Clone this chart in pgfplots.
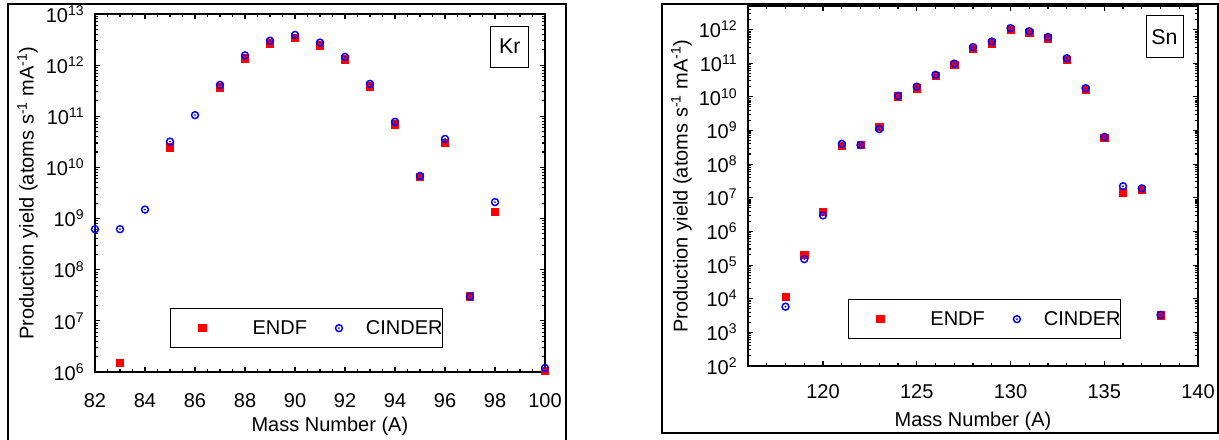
\documentclass[border=0pt]{standalone}
\usepackage{fontspec}
\setmainfont{Liberation Sans}
\usepackage{pgfplots}
\pgfplotsset{compat=1.18}

% circle with a dot in the middle (CINDER marker)
\pgfdeclareplotmark{odot}{%
  \pgfpathcircle{\pgfpointorigin}{\pgfplotmarksize}\pgfusepathqstroke
  \pgfpathcircle{\pgfpointorigin}{0.3\pgfplotmarksize}\pgfusepathqfill}

\newcommand{\lbl}{\fontsize{15}{18}\selectfont}
\newcommand{\tp}[1]{10\textsuperscript{#1}}
\newcommand{\ylab}{Production yield (atoms s\textsuperscript{-1} mA\textsuperscript{-1})}

\begin{document}
\begin{tikzpicture}
% 1 px of the 1219x439 reference = 0.75pt
\useasboundingbox (0pt,0pt) rectangle (914.25pt,329.25pt);

% Kr
\begin{axis}[
  at={(71.25pt,50.25pt)}, anchor=south west,
  scale only axis, width=337.5pt, height=268.5pt,
  ymode=log, log basis y=10, clip=false,
  axis line style={line width=1.4pt},
  every tick/.style={black, line width=0.8pt},
  tick align=inside, major tick length=3.75pt, minor tick length=2pt,
  tick label style={font=\lbl},
  xticklabel style={yshift=-12.5pt}, yticklabel style={xshift=-4.5pt},
  /pgf/number format/assume math mode=true,
  xmin=82, xmax=100, xtick={82,84,...,100}, minor x tick num=3,
  ymin=1e6, ymax=1e13,
  ytick={1e6,1e7,1e8,1e9,1e10,1e11,1e12,1e13},
  yticklabels={\tp{6},\tp{7},\tp{8},\tp{9},\tp{10},\tp{11},\tp{12},\tp{13}},
  minor ytick={2e6,3e6,4e6,5e6,6e6,7e6,8e6,9e6,
    2e7,3e7,4e7,5e7,6e7,7e7,8e7,9e7,
    2e8,3e8,4e8,5e8,6e8,7e8,8e8,9e8,
    2e9,3e9,4e9,5e9,6e9,7e9,8e9,9e9,
    2e10,3e10,4e10,5e10,6e10,7e10,8e10,9e10,
    2e11,3e11,4e11,5e11,6e11,7e11,8e11,9e11,
    2e12,3e12,4e12,5e12,6e12,7e12,8e12,9e12},
  xlabel={Mass Number (A)}, ylabel={\ylab},
  xlabel style={at={(axis description cs:0.522,-0.153)}, anchor=center, font=\lbl},
  ylabel style={at={(axis description cs:-0.15,0.5)}, anchor=center, font=\lbl},
  legend columns=2,
  legend image code/.code={\path[draw=none] (0pt,0pt) -- (44.25pt,0pt);
    \draw[#1] plot coordinates {(24pt,0pt)};},
  legend style={at={(0.1667,0.067)}, anchor=south west, draw=black, line width=0.8pt,
    inner xsep=0pt, inner ysep=8.5pt, nodes={inner sep=0pt}, font=\lbl},
]
\addplot[only marks, mark=square*, mark size=2.8pt, red] coordinates {
  (83,1.5e6) (85,2.5e10) (87,3.7e11) (88,1.35e12) (89,2.7e12) (90,3.4e12)
  (91,2.45e12) (92,1.3e12) (93,3.9e11) (94,7e10) (95,6.5e9) (96,3e10)
  (97,3e7) (98,1.35e9) (100,1.05e6)
};
\addplot[only marks, mark=odot, mark size=2.6pt, blue, mark options={line width=1.1pt}] coordinates {
  (82,6.2e8) (83,6.2e8) (84,1.5e9) (85,3.2e10) (86,1.05e11) (87,4.1e11)
  (88,1.55e12) (89,3.0e12) (90,3.9e12) (91,2.75e12) (92,1.45e12) (93,4.3e11)
  (94,7.8e10) (95,6.8e9) (96,3.6e10) (97,3e7) (98,2.1e9) (100,1.2e6)
};
\legend{\kern17.25pt ENDF,CINDER}
\node[draw, line width=0.8pt, minimum width=28.5pt, minimum height=30.75pt,
  inner sep=0pt, font=\fontsize{16}{19}\selectfont] at (rel axis cs:0.922,0.909) {Kr};
\end{axis}

% Sn
\begin{axis}[
  at={(561pt,54.75pt)}, anchor=south west,
  scale only axis, width=337.5pt, height=270pt,
  ymode=log, log basis y=10, clip=false,
  axis line style={line width=1.4pt},
  every tick/.style={black, line width=0.8pt},
  tick align=inside, major tick length=3.75pt, minor tick length=2pt,
  tick label style={font=\lbl},
  xticklabel style={yshift=-10.5pt}, yticklabel style={xshift=-4.5pt},
  /pgf/number format/assume math mode=true,
  xmin=116, xmax=140, xtick={115,120,...,140}, minor x tick num=4,
  ymin=1e2, ymax=5e12,
  ytick={1e2,1e3,1e4,1e5,1e6,1e7,1e8,1e9,1e10,1e11,1e12},
  yticklabels={\tp{2},\tp{3},\tp{4},\tp{5},\tp{6},\tp{7},\tp{8},\tp{9},\tp{10},\tp{11},\tp{12}},
  minor ytick={2e2,3e2,4e2,5e2,6e2,7e2,8e2,9e2,
    2e3,3e3,4e3,5e3,6e3,7e3,8e3,9e3,
    2e4,3e4,4e4,5e4,6e4,7e4,8e4,9e4,
    2e5,3e5,4e5,5e5,6e5,7e5,8e5,9e5,
    2e6,3e6,4e6,5e6,6e6,7e6,8e6,9e6,
    2e7,3e7,4e7,5e7,6e7,7e7,8e7,9e7,
    2e8,3e8,4e8,5e8,6e8,7e8,8e8,9e8,
    2e9,3e9,4e9,5e9,6e9,7e9,8e9,9e9,
    2e10,3e10,4e10,5e10,6e10,7e10,8e10,9e10,
    2e11,3e11,4e11,5e11,6e11,7e11,8e11,9e11,
    2e12,3e12,4e12},
  xlabel={Mass Number (A)}, ylabel={\ylab},
  xlabel style={at={(axis description cs:0.5,-0.155)}, anchor=center, font=\lbl},
  ylabel style={at={(axis description cs:-0.148,0.5)}, anchor=center, font=\lbl},
  legend columns=2,
  legend image code/.code={\path[draw=none] (0pt,0pt) -- (44.25pt,0pt);
    \draw[#1] plot coordinates {(24pt,0pt)};},
  legend style={at={(0.222,0.075)}, anchor=south west, draw=black, line width=0.8pt,
    inner xsep=0pt, inner ysep=8.5pt, nodes={inner sep=0pt}, font=\lbl},
]
\addplot[only marks, mark=square*, mark size=2.8pt, red] coordinates {
  (118,1.15e4) (119,2e5) (120,3.8e6) (121,3.5e8) (122,3.7e8) (123,1.3e9)
  (124,1.05e10) (125,1.8e10) (126,4.2e10) (127,9e10) (128,2.7e11) (129,3.9e11)
  (130,1e12) (131,8e11) (132,5.5e11) (133,1.26e11) (134,1.6e10) (135,6e8)
  (136,1.45e7) (137,1.7e7) (138,3.2e3)
};
\addplot[only marks, mark=odot, mark size=2.6pt, blue, mark options={line width=1.1pt}] coordinates {
  (118,5.8e3) (119,1.5e5) (120,3e6) (121,4e8) (122,3.7e8) (123,1.1e9)
  (124,1.07e10) (125,2e10) (126,4.5e10) (127,9.7e10) (128,3e11) (129,4.4e11)
  (130,1.1e12) (131,8.9e11) (132,6e11) (133,1.4e11) (134,1.8e10) (135,6.4e8)
  (136,2.2e7) (137,1.9e7) (138,3.3e3)
};
\legend{\kern17.25pt ENDF,CINDER}
\node[draw, line width=0.8pt, minimum width=27.75pt, minimum height=31.5pt,
  inner sep=0pt, font=\fontsize{16}{19}\selectfont] at (rel axis cs:0.9256,0.914) {Sn};
\end{axis}

% panel frames
\draw[line width=1.4pt] (6pt,326.25pt) rectangle (424.5pt,-4pt);
\draw[line width=1.4pt] (496.5pt,326.25pt) rectangle (913.5pt,4.5pt);
\end{tikzpicture}
\end{document}
